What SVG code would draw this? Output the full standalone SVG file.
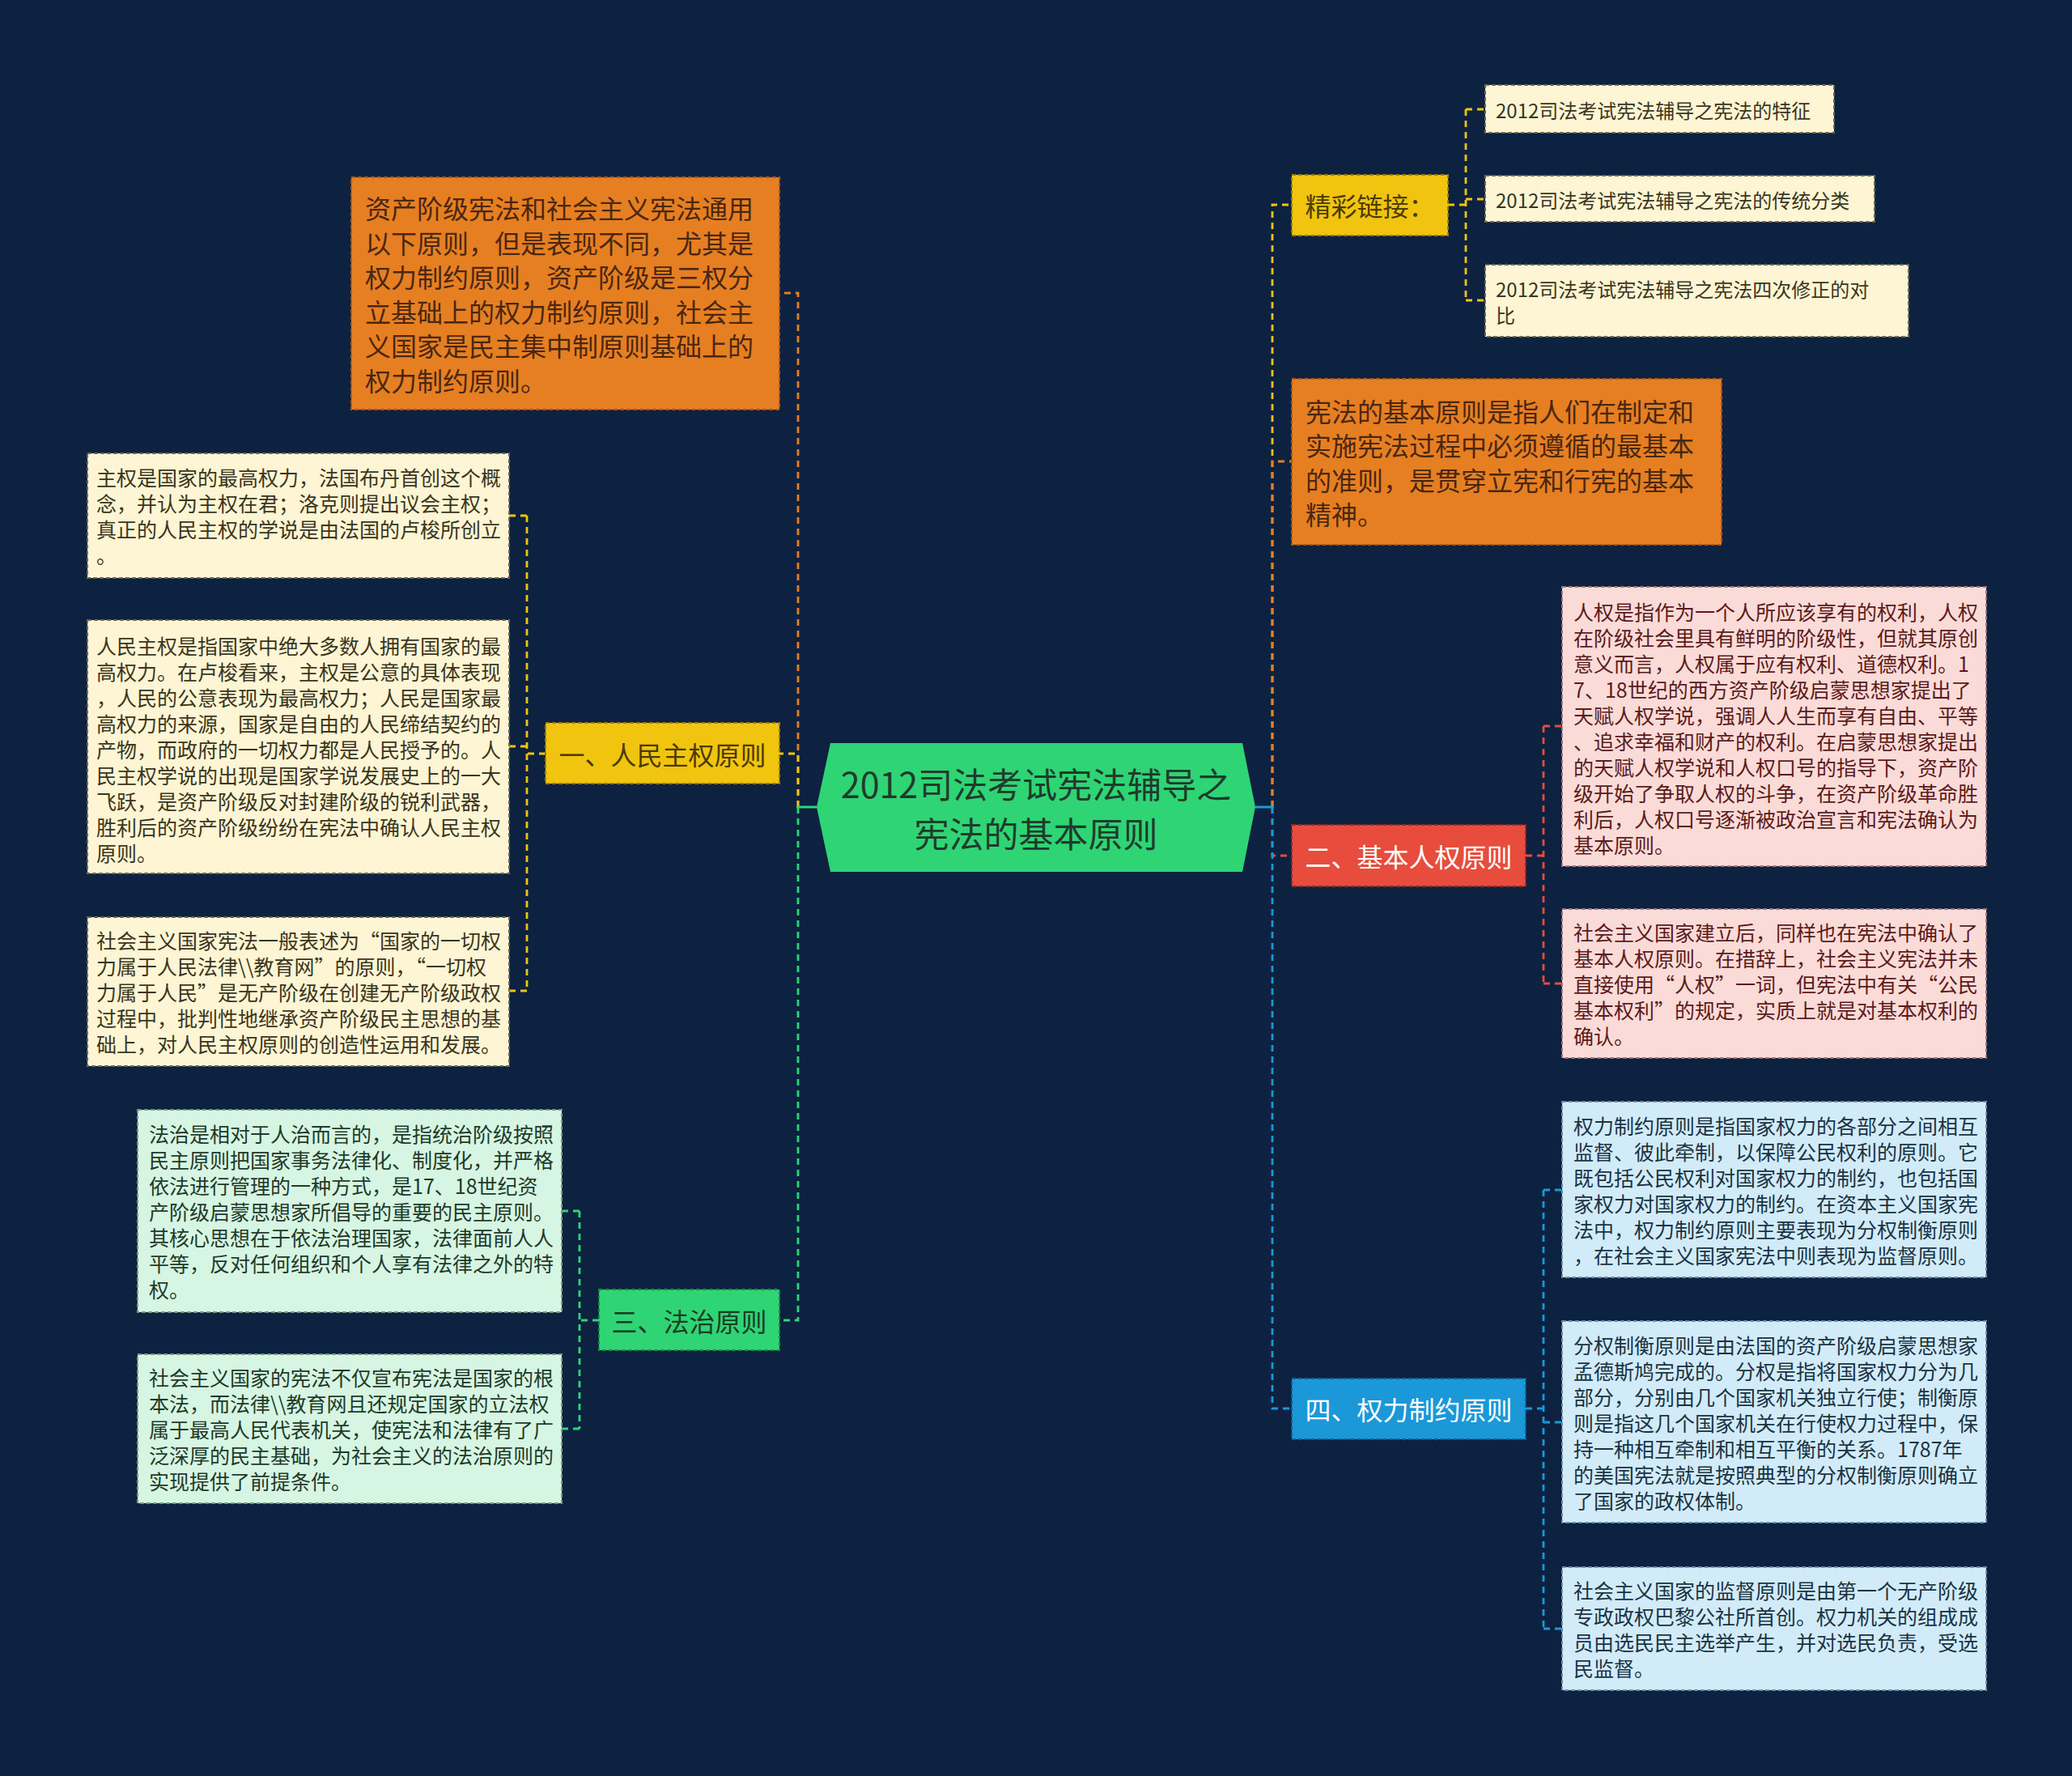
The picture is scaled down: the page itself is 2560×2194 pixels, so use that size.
<svg xmlns="http://www.w3.org/2000/svg" width="2560" height="2194" viewBox="0 0 2560 2194">
<style>
.t{font-family:"Noto Sans CJK SC","Noto Sans",sans-serif;dominant-baseline:central}
.leaf{font-size:25px}
.mid{font-size:24px}
.big{font-size:32px}
.c{stroke-width:2.8;fill:none;stroke-dasharray:8 6}
.b{stroke-width:2;stroke-dasharray:5 3}
</style>
<rect x="0" y="0" width="2560" height="2194" fill="#0d2140"/>

<g id="connectors">
  <!-- left side -->
  <path class="c" stroke="#e67e22" d="M986 997 V362 H963"/>
  <path class="c" stroke="#f1c40f" d="M986 997 V931 H963"/>
  <path class="c" stroke="#2fd475" d="M986 997 V1631 H963"/>
  <path d="M1009 997 H984" stroke="#2fd475" stroke-width="3"/>
  <!-- right side -->
  <path class="c" stroke="#f1c40f" d="M1572 997 V253 H1596"/>
  <path class="c" stroke="#e67e22" d="M1572 997 V570 H1596"/>
  <path class="c" stroke="#e74c3c" d="M1572 997 V1057 H1596"/>
  <path class="c" stroke="#1b98d8" d="M1572 997 V1740 H1596"/>
  <path d="M1551 997 H1574" stroke="#1b98d8" stroke-width="3"/>
  <!-- 一 children -->
  <path class="c" stroke="#f1c40f" stroke-width="2.2" d="M674 931 H651 M651 637 V1224 M651 637 H629 M651 922 H629 M651 1224 H629"/>
  <!-- 三 children -->
  <path class="c" stroke="#2fd475" stroke-width="2.2" d="M740 1631 H716 M716 1496 V1765 M716 1496 H694 M716 1765 H694"/>
  <!-- 精彩链接 children -->
  <path class="c" stroke="#f1c40f" stroke-width="2.2" d="M1789 253 H1811 M1811 135 V371 M1811 135 H1835 M1811 246 H1835 M1811 371 H1835"/>
  <!-- 二 children -->
  <path class="c" stroke="#e74c3c" stroke-width="2.2" d="M1885 1057 H1907 M1907 897 V1215 M1907 897 H1930 M1907 1215 H1930"/>
  <!-- 四 children -->
  <path class="c" stroke="#1b98d8" stroke-width="2.2" d="M1885 1740 H1907 M1907 1470 V2012 M1907 1470 H1930 M1907 1757 H1930 M1907 2012 H1930"/>
</g>

<g id="center">
  <polygon points="1009,997 1026,918 1535,918 1551,997 1535,1077 1026,1077" fill="#2fd475"/>
  <text class="t" x="1280" y="967" font-size="43" text-anchor="middle" fill="#1f3b2b">2012司法考试宪法辅导之</text>
  <text class="t" x="1280" y="1028" font-size="43" text-anchor="middle" fill="#1f3b2b">宪法的基本原则</text>
</g>

<g id="orange-left">
  <rect class="b" x="434" y="219" width="529" height="287" fill="#e67e22" stroke="#a85a14"/>
  <g class="t big" fill="#4a2710">
    <text x="451" y="256">资产阶级宪法和社会主义宪法通用</text>
    <text x="451" y="298.5">以下原则，但是表现不同，尤其是</text>
    <text x="451" y="341">权力制约原则，资产阶级是三权分</text>
    <text x="451" y="383.5">立基础上的权力制约原则，社会主</text>
    <text x="451" y="426">义国家是民主集中制原则基础上的</text>
    <text x="451" y="468.5">权力制约原则。</text>
  </g>
</g>

<g id="node-1">
  <rect class="b" x="674" y="893" width="289" height="75" fill="#f1c40f" stroke="#9a7d05"/>
  <text class="t big" x="818.5" y="931" text-anchor="middle" fill="#4a3b00">一、人民主权原则</text>
</g>

<g id="leaf-1a">
  <rect class="b" x="108" y="560" width="521" height="154" fill="#fdf5d4" stroke="#6e6850"/>
  <g class="t leaf" fill="#3b3520">
    <text x="119" y="589">主权是国家的最高权力，法国布丹首创这个概</text>
    <text x="119" y="621">念，并认为主权在君；洛克则提出议会主权；</text>
    <text x="119" y="653">真正的人民主权的学说是由法国的卢梭所创立</text>
    <text x="119" y="685">。</text>
  </g>
</g>

<g id="leaf-1b">
  <rect class="b" x="108" y="766" width="521" height="313" fill="#fdf5d4" stroke="#6e6850"/>
  <g class="t leaf" fill="#3b3520">
    <text x="119" y="797">人民主权是指国家中绝大多数人拥有国家的最</text>
    <text x="119" y="829">高权力。在卢梭看来，主权是公意的具体表现</text>
    <text x="119" y="861">，人民的公意表现为最高权力；人民是国家最</text>
    <text x="119" y="893">高权力的来源，国家是自由的人民缔结契约的</text>
    <text x="119" y="925">产物，而政府的一切权力都是人民授予的。人</text>
    <text x="119" y="957">民主权学说的出现是国家学说发展史上的一大</text>
    <text x="119" y="989">飞跃，是资产阶级反对封建阶级的锐利武器，</text>
    <text x="119" y="1021">胜利后的资产阶级纷纷在宪法中确认人民主权</text>
    <text x="119" y="1053">原则。</text>
  </g>
</g>

<g id="leaf-1c">
  <rect class="b" x="108" y="1133" width="521" height="184" fill="#fdf5d4" stroke="#6e6850"/>
  <g class="t leaf" fill="#3b3520">
    <text x="119" y="1161">社会主义国家宪法一般表述为“国家的一切权</text>
    <text x="119" y="1193">力属于人民法律\\教育网”的原则，“一切权</text>
    <text x="119" y="1225">力属于人民”是无产阶级在创建无产阶级政权</text>
    <text x="119" y="1257">过程中，批判性地继承资产阶级民主思想的基</text>
    <text x="119" y="1289">础上，对人民主权原则的创造性运用和发展。</text>
  </g>
</g>

<g id="node-3">
  <rect class="b" x="740" y="1593" width="223" height="75" fill="#2fd475" stroke="#1a8a48"/>
  <text class="t big" x="851.5" y="1631" text-anchor="middle" fill="#1a3d26">三、法治原则</text>
</g>

<g id="leaf-3a">
  <rect class="b" x="170" y="1371" width="524" height="250" fill="#d6f5e3" stroke="#6f9c80"/>
  <g class="t leaf" fill="#1e3a28">
    <text x="184" y="1400">法治是相对于人治而言的，是指统治阶级按照</text>
    <text x="184" y="1432">民主原则把国家事务法律化、制度化，并严格</text>
    <text x="184" y="1464">依法进行管理的一种方式，是17、18世纪资</text>
    <text x="184" y="1496">产阶级启蒙思想家所倡导的重要的民主原则。</text>
    <text x="184" y="1528">其核心思想在于依法治理国家，法律面前人人</text>
    <text x="184" y="1560">平等，反对任何组织和个人享有法律之外的特</text>
    <text x="184" y="1592">权。</text>
  </g>
</g>

<g id="leaf-3b">
  <rect class="b" x="170" y="1673" width="524" height="184" fill="#d6f5e3" stroke="#6f9c80"/>
  <g class="t leaf" fill="#1e3a28">
    <text x="184" y="1701">社会主义国家的宪法不仅宣布宪法是国家的根</text>
    <text x="184" y="1733">本法，而法律\\教育网且还规定国家的立法权</text>
    <text x="184" y="1765">属于最高人民代表机关，使宪法和法律有了广</text>
    <text x="184" y="1797">泛深厚的民主基础，为社会主义的法治原则的</text>
    <text x="184" y="1829">实现提供了前提条件。</text>
  </g>
</g>

<g id="node-links">
  <rect class="b" x="1596" y="216" width="193" height="75" fill="#f1c40f" stroke="#9a7d05"/>
  <text class="t big" x="1692.5" y="253" text-anchor="middle" fill="#4a3b00">精彩链接：</text>
</g>

<g id="link-a">
  <rect class="b" x="1835" y="105" width="431" height="59" fill="#fdf5d4" stroke="#6e6850"/>
  <text class="t mid" x="1848" y="135" fill="#3b3520">2012司法考试宪法辅导之宪法的特征</text>
</g>
<g id="link-b">
  <rect class="b" x="1835" y="217" width="481" height="57" fill="#fdf5d4" stroke="#6e6850"/>
  <text class="t mid" x="1848" y="246" fill="#3b3520">2012司法考试宪法辅导之宪法的传统分类</text>
</g>
<g id="link-c">
  <rect class="b" x="1835" y="327" width="523" height="89" fill="#fdf5d4" stroke="#6e6850"/>
  <text class="t mid" x="1848" y="356" fill="#3b3520">2012司法考试宪法辅导之宪法四次修正的对</text>
  <text class="t mid" x="1848" y="388" fill="#3b3520">比</text>
</g>

<g id="orange-right">
  <rect class="b" x="1596" y="468" width="531" height="205" fill="#e67e22" stroke="#a85a14"/>
  <g class="t big" fill="#4a2710">
    <text x="1613" y="507">宪法的基本原则是指人们在制定和</text>
    <text x="1613" y="549">实施宪法过程中必须遵循的最基本</text>
    <text x="1613" y="592">的准则，是贯穿立宪和行宪的基本</text>
    <text x="1613" y="634">精神。</text>
  </g>
</g>

<g id="node-2">
  <rect class="b" x="1596" y="1019" width="289" height="76" fill="#e74c3c" stroke="#8f2a22"/>
  <text class="t big" x="1740.5" y="1057" text-anchor="middle" fill="#ffffff">二、基本人权原则</text>
</g>

<g id="leaf-2a">
  <rect class="b" x="1930" y="725" width="524" height="345" fill="#fadbd8" stroke="#a07878"/>
  <g class="t leaf" fill="#5c1a1a">
    <text x="1944" y="755">人权是指作为一个人所应该享有的权利，人权</text>
    <text x="1944" y="787">在阶级社会里具有鲜明的阶级性，但就其原创</text>
    <text x="1944" y="819">意义而言，人权属于应有权利、道德权利。1</text>
    <text x="1944" y="851">7、18世纪的西方资产阶级启蒙思想家提出了</text>
    <text x="1944" y="883">天赋人权学说，强调人人生而享有自由、平等</text>
    <text x="1944" y="915">、追求幸福和财产的权利。在启蒙思想家提出</text>
    <text x="1944" y="947">的天赋人权学说和人权口号的指导下，资产阶</text>
    <text x="1944" y="979">级开始了争取人权的斗争，在资产阶级革命胜</text>
    <text x="1944" y="1011">利后，人权口号逐渐被政治宣言和宪法确认为</text>
    <text x="1944" y="1043">基本原则。</text>
  </g>
</g>

<g id="leaf-2b">
  <rect class="b" x="1930" y="1123" width="524" height="184" fill="#fadbd8" stroke="#a07878"/>
  <g class="t leaf" fill="#5c1a1a">
    <text x="1944" y="1151">社会主义国家建立后，同样也在宪法中确认了</text>
    <text x="1944" y="1183">基本人权原则。在措辞上，社会主义宪法并未</text>
    <text x="1944" y="1215">直接使用“人权”一词，但宪法中有关“公民</text>
    <text x="1944" y="1247">基本权利”的规定，实质上就是对基本权利的</text>
    <text x="1944" y="1279">确认。</text>
  </g>
</g>

<g id="node-4">
  <rect class="b" x="1596" y="1703" width="289" height="75" fill="#1b98d8" stroke="#0d5f8e"/>
  <text class="t big" x="1740.5" y="1740" text-anchor="middle" fill="#ffffff">四、权力制约原则</text>
</g>

<g id="leaf-4a">
  <rect class="b" x="1930" y="1361" width="524" height="217" fill="#d2ebf8" stroke="#6a93ab"/>
  <g class="t leaf" fill="#1a3344">
    <text x="1944" y="1390">权力制约原则是指国家权力的各部分之间相互</text>
    <text x="1944" y="1422">监督、彼此牵制，以保障公民权利的原则。它</text>
    <text x="1944" y="1454">既包括公民权利对国家权力的制约，也包括国</text>
    <text x="1944" y="1486">家权力对国家权力的制约。在资本主义国家宪</text>
    <text x="1944" y="1518">法中，权力制约原则主要表现为分权制衡原则</text>
    <text x="1944" y="1550">，在社会主义国家宪法中则表现为监督原则。</text>
  </g>
</g>

<g id="leaf-4b">
  <rect class="b" x="1930" y="1632" width="524" height="249" fill="#d2ebf8" stroke="#6a93ab"/>
  <g class="t leaf" fill="#1a3344">
    <text x="1944" y="1661">分权制衡原则是由法国的资产阶级启蒙思想家</text>
    <text x="1944" y="1693">孟德斯鸠完成的。分权是指将国家权力分为几</text>
    <text x="1944" y="1725">部分，分别由几个国家机关独立行使；制衡原</text>
    <text x="1944" y="1757">则是指这几个国家机关在行使权力过程中，保</text>
    <text x="1944" y="1789">持一种相互牵制和相互平衡的关系。1787年</text>
    <text x="1944" y="1821">的美国宪法就是按照典型的分权制衡原则确立</text>
    <text x="1944" y="1853">了国家的政权体制。</text>
  </g>
</g>

<g id="leaf-4c">
  <rect class="b" x="1930" y="1936" width="524" height="152" fill="#d2ebf8" stroke="#6a93ab"/>
  <g class="t leaf" fill="#1a3344">
    <text x="1944" y="1964">社会主义国家的监督原则是由第一个无产阶级</text>
    <text x="1944" y="1996">专政政权巴黎公社所首创。权力机关的组成成</text>
    <text x="1944" y="2028">员由选民民主选举产生，并对选民负责，受选</text>
    <text x="1944" y="2060">民监督。</text>
  </g>
</g>
</svg>
